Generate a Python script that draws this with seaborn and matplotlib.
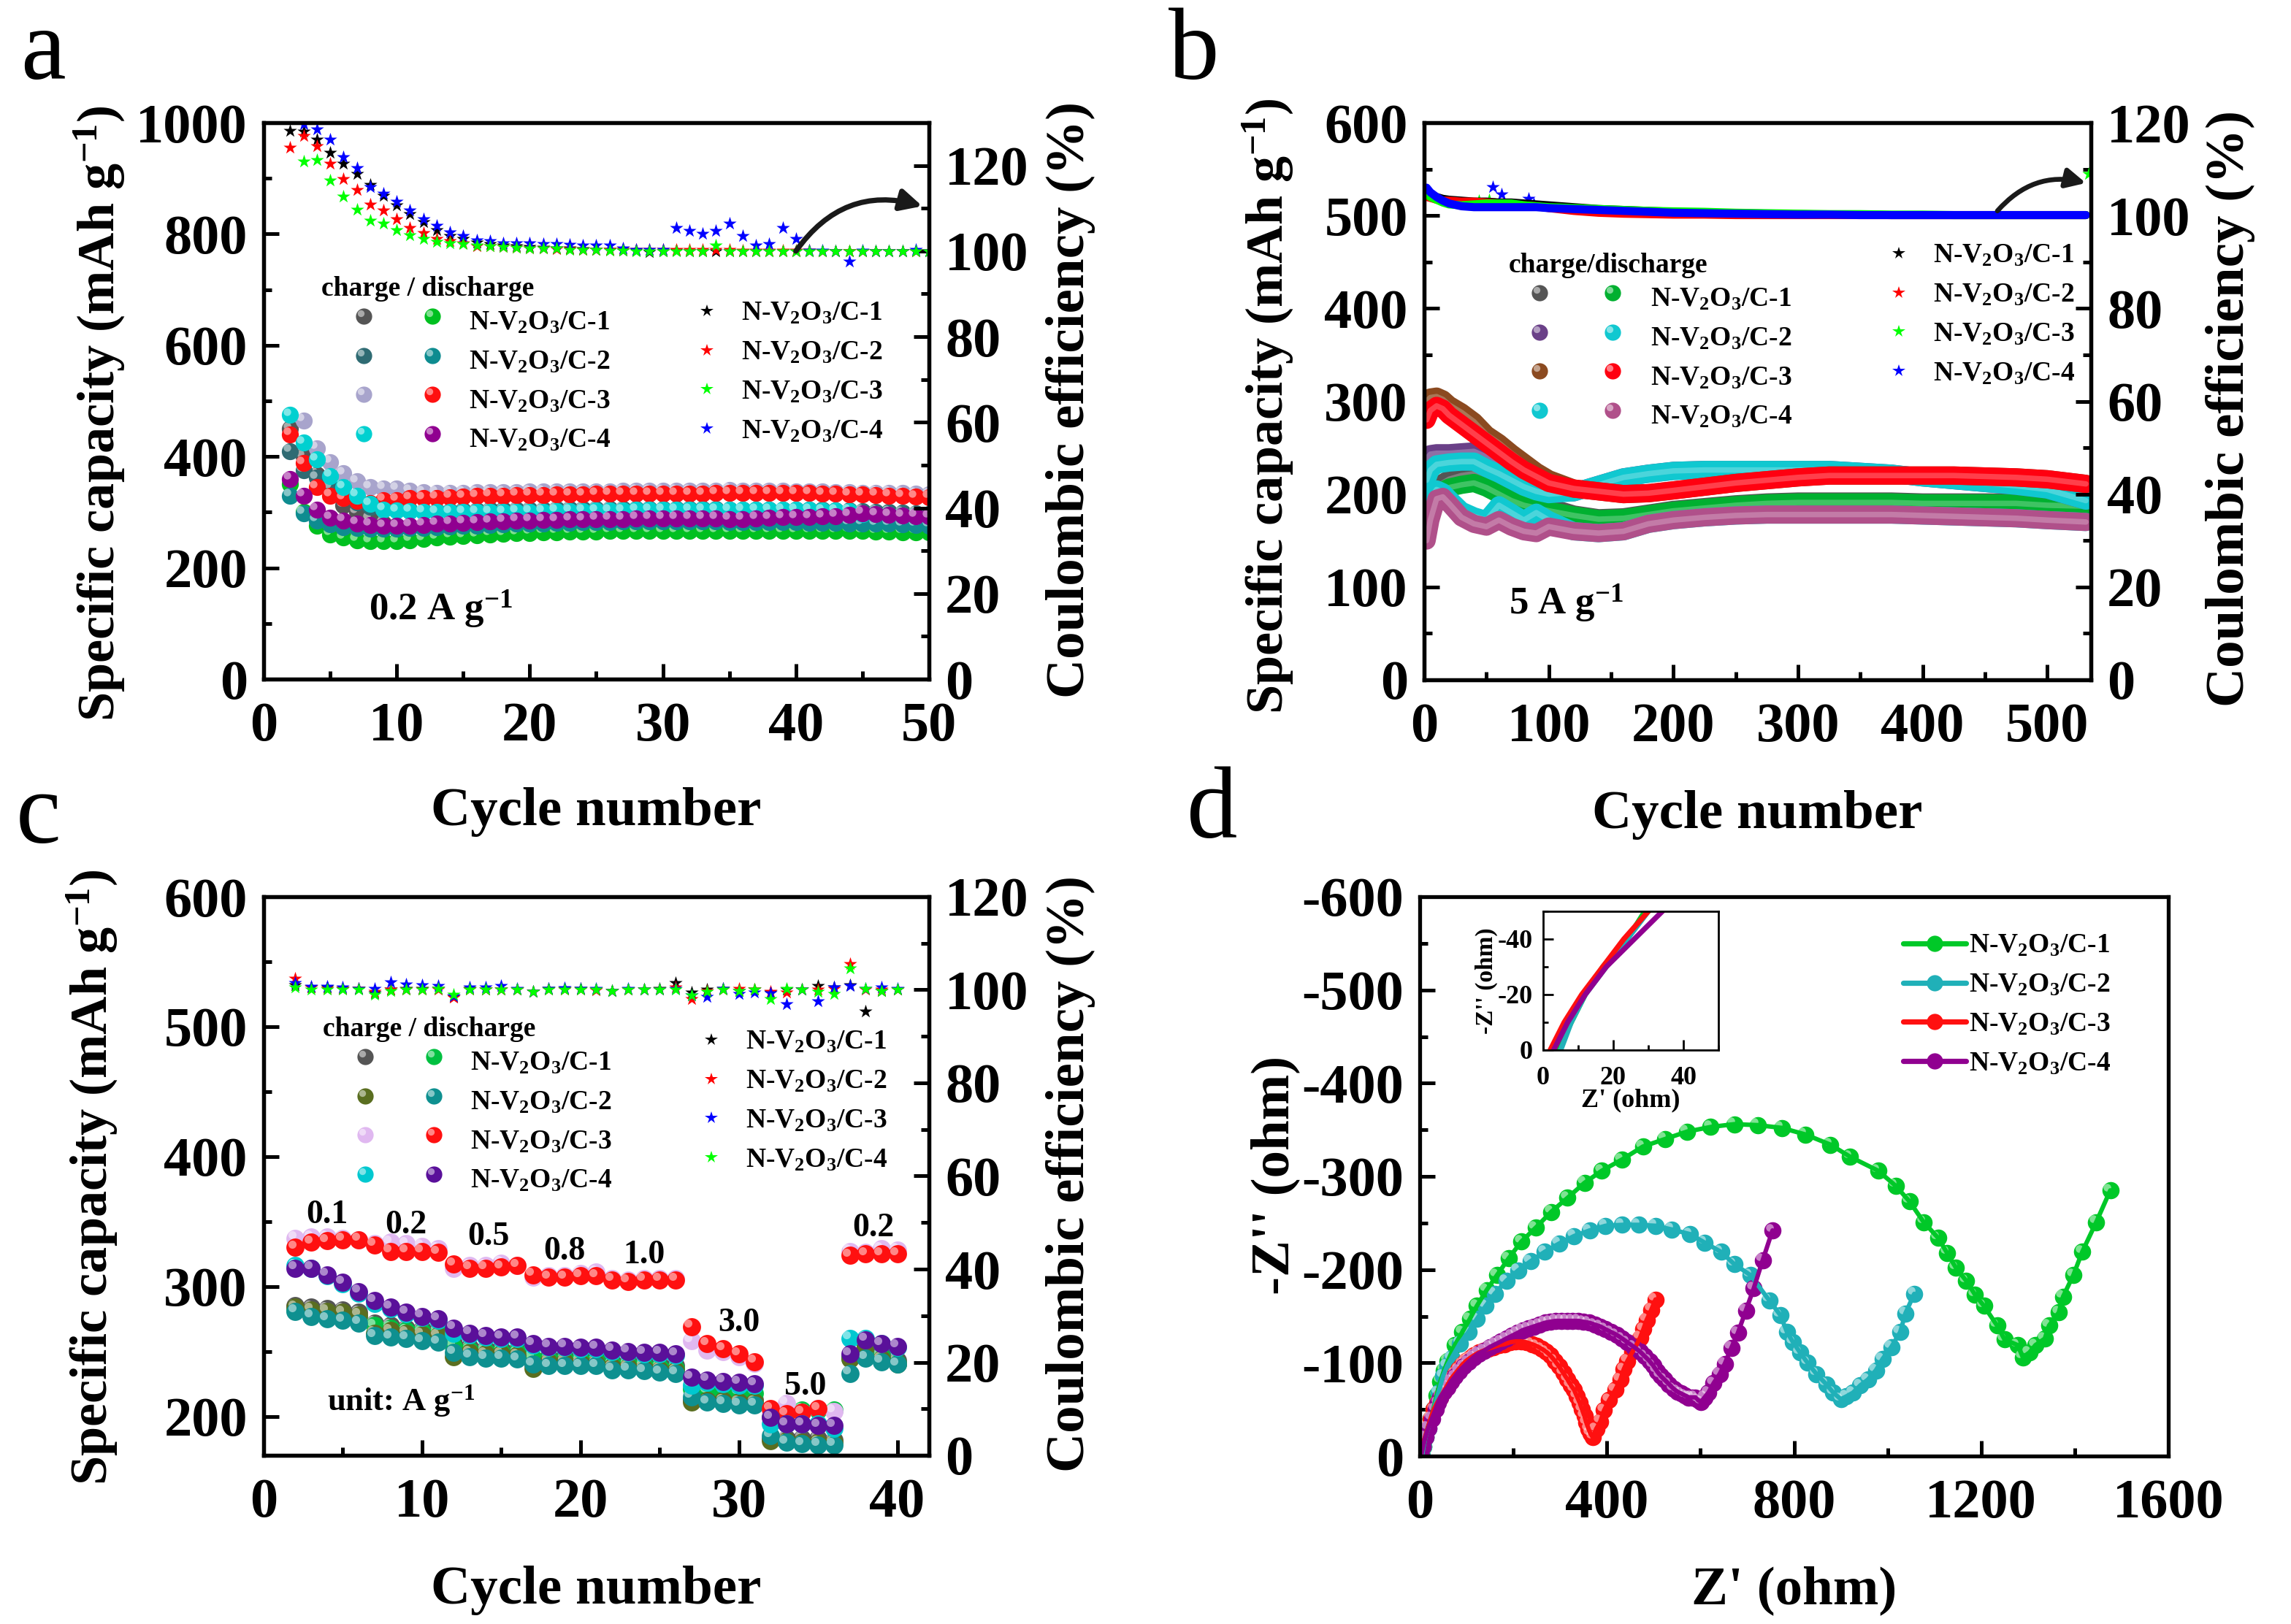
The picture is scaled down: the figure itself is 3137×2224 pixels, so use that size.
import numpy as np, pandas as pd
import matplotlib
matplotlib.use('Agg')
import matplotlib.pyplot as plt
import seaborn as sns
from matplotlib.lines import Line2D
from matplotlib.legend_handler import HandlerBase
from matplotlib.ticker import MultipleLocator
from matplotlib.transforms import offset_copy

W, H, DPI = 3137, 2224, 200
sns.set_theme(style='ticks')
plt.rcParams.update({
    'font.family': ['Liberation Serif', 'DejaVu Serif'], 'font.weight': 'bold',
    'axes.labelweight': 'bold', 'mathtext.default': 'regular',
    'axes.unicode_minus': False, 'axes.linewidth': 1.9, 'text.color': 'black',
    'xtick.color': 'black', 'ytick.color': 'black', 'axes.edgecolor': 'black',
    'axes.labelcolor': 'black'})

NAMES = ['N-V$_2$O$_3$/C-1', 'N-V$_2$O$_3$/C-2', 'N-V$_2$O$_3$/C-3', 'N-V$_2$O$_3$/C-4']
STAR_A = ['#000000', '#FF0000', '#00FF00', '#0000FF']
STAR_C = ['#000000', '#FF0000', '#0000FF', '#00FF00']

# ---------- panel a (cycle 2 onward) ----------
A_C1 = [450,400,368,340,312,300,288,280,276,273,272,272,272,272,272,272,273,273,273,273,273,273,273,273,273,273,273,273,273,273,273,273,273,273,273,273,273,273,273,273,273,273,273,272,272,272,272,271,271]
A_D1 = [350,300,275,260,254,250,248,248,248,250,252,254,256,257,258,260,261,262,263,264,264,265,265,265,266,266,266,266,266,266,266,266,266,266,266,266,266,266,266,266,266,266,267,266,265,265,264,264,264]
A_C2 = [410,375,362,345,330,318,310,306,304,303,302,302,302,303,303,304,304,305,305,305,306,306,306,306,306,306,306,306,306,306,306,306,306,305,305,305,305,305,304,304,304,303,303,302,301,300,299,298,297]
A_D2 = [330,298,285,278,273,271,270,270,270,271,272,273,274,275,276,277,278,279,280,280,281,281,282,282,282,283,283,283,283,283,283,283,283,282,282,282,282,282,282,281,281,281,280,280,279,279,278,277,276]
A_C3 = [np.nan,465,415,390,370,355,345,343,342,338,336,335,335,335,336,336,336,336,337,337,337,337,337,337,337,338,338,338,338,338,338,338,338,340,338,338,338,338,337,337,337,336,336,335,335,335,334,333,332]
A_D3 = [440,388,345,330,325,320,316,322,322,325,325,326,327,328,329,330,330,331,331,331,332,332,332,333,333,333,333,333,333,333,333,333,334,334,334,334,334,334,334,334,333,333,332,332,331,330,329,328,327]
A_C4 = [475,425,395,365,345,330,315,305,303,302,301,300,300,300,300,300,300,301,301,301,302,302,302,303,303,303,304,304,304,304,304,304,304,304,304,304,304,304,304,304,303,303,302,296,296,295,294,293,292]
A_D4 = [360,330,305,290,285,280,277,275,275,276,277,279,280,281,282,283,284,285,285,286,286,287,287,288,288,288,289,289,289,289,289,289,289,288,288,289,290,291,291,291,292,293,295,298,296,295,294,293,292]
A_CE1 = [128.1,128.0,126.0,123.0,120.5,118.0,115.5,113.0,110.8,108.6,106.8,105.0,103.5,102.9,102.0,101.6,101.3,101.1,101.0,100.8,100.7,100.7,100.5,100.4,100.3,100.2,100.1,99.8,100.0,100.1,100.0,99.9,99.9,100.0,100.0,100.0,100.0,100.0,100.0,100.0,100.0,99.9,99.9,99.9,100.0,100.0,100.0,100.0,100.0]
A_CE2 = [124.2,127.0,124.6,120.4,116.9,114.3,110.9,109.5,107.5,105.5,104.2,102.9,102.3,101.8,101.2,101.1,101.0,100.9,100.7,100.6,100.5,100.5,100.4,100.4,100.3,100.5,100.3,100.3,100.4,100.4,100.3,100.3,100.3,100.3,100.2,100.2,100.2,100.1,100.1,100.1,100.0,100.0,100.0,100.0,100.0,100.0,100.0,100.0,100.0]
A_CE3 = [np.nan,121.0,121.3,116.6,112.8,109.7,107.2,106.5,105.0,103.7,102.9,102.2,101.8,101.6,101.4,101.2,101.0,100.8,100.7,100.6,100.6,100.4,100.3,100.3,100.2,100.1,100.0,100.0,100.0,100.0,100.0,100.0,101.4,100.0,100.0,100.0,100.0,100.0,100.0,99.9,99.9,99.9,99.9,99.9,99.9,99.9,99.9,99.9,99.9]
A_CE4 = [np.nan,129.6,128.4,126.0,122.0,119.4,115.0,113.4,111.6,109.5,107.4,105.9,104.4,103.5,102.6,102.4,101.8,101.8,101.8,101.7,101.6,101.5,101.4,101.4,101.4,100.6,100.4,100.3,100.3,105.5,104.8,104.0,104.8,106.5,103.6,101.4,101.6,105.5,102.9,100.2,100.1,100.0,97.6,100.2,100.0,100.0,100.0,100.3,100.0]
A_COL = ['#555555','#00C020','#2F6B73','#0E8C90','#A8A4CC','#FF1010','#00D0D0','#900090']

# ---------- panel b ----------
B_X = [2,5,10,15,20,30,40,50,60,70,80,90,100,120,140,160,180,200,225,250,275,300,325,350,375,400,425,450,475,500,531]
B_C1 = [195,200,205,212,216,220,222,212,204,197,192,188,186,178,174,175,179,183,186,189,191,192,192,192,192,191,191,191,191,189,188]
B_D1 = [190,195,200,204,207,210,212,207,200,193,188,185,182,177,173,174,178,182,185,188,190,191,191,191,191,190,190,190,190,188,187]
B_C2 = [238,243,244,244,244,245,246,240,230,220,212,205,202,202,210,218,222,225,226,226,226,226,226,224,222,218,215,212,209,205,193]
B_D2 = [215,226,232,233,234,235,235,228,222,215,208,203,200,202,210,218,222,225,226,226,226,226,226,224,222,218,215,212,209,205,193]
B_C3 = [300,304,305,302,296,288,278,264,255,244,234,224,216,206,203,200,201,204,208,212,215,218,220,220,220,220,220,219,218,216,211]
B_D3 = [280,290,295,292,285,275,265,255,245,235,226,219,212,206,203,200,201,204,208,212,215,218,220,220,220,220,220,219,218,216,211]
B_C4 = [185,195,205,202,195,182,176,172,188,180,172,180,172,160,158,160,168,172,175,177,178,178,178,178,178,177,176,175,174,172,170]
B_D4 = [150,172,195,197,190,175,168,165,172,165,160,158,165,160,158,160,168,172,175,177,178,178,178,178,178,177,176,175,174,172,170]
B_CE1 = [105.0,104.5,104.0,103.6,103.4,103.2,103.0,103.0,102.8,102.8,102.6,102.4,102.2,101.8,101.4,101.2,101.0,100.8,100.6,100.5,100.4,100.3,100.2,100.2,100.1,100.1,100.1,100.1,100.1,100.1,100.1]
B_CE2 = [104.0,103.8,103.4,103.2,103.2,103.0,103.0,102.8,102.6,102.4,102.2,102.0,101.6,101.0,100.6,100.4,100.3,100.2,100.2,100.1,100.1,100.1,100.1,100.1,100.1,100.1,100.1,100.1,100.1,100.1,100.1]
B_CE3 = [104.6,104.0,103.4,102.8,102.4,102.2,102.4,102.6,102.6,102.6,102.2,102.0,101.8,101.6,101.4,101.2,101.0,100.9,100.8,100.6,100.5,100.4,100.3,100.3,100.2,100.2,100.1,100.1,100.1,100.1,100.1]
B_CE4 = [106.0,105.0,104.0,103.2,102.6,102.0,101.8,101.8,101.8,101.8,101.8,101.8,101.6,101.4,101.2,101.0,100.8,100.6,100.5,100.4,100.3,100.2,100.2,100.1,100.1,100.1,100.1,100.1,100.1,100.1,100.1]
B_CE3_OUT_X = [44, 52, 533]
B_CE3_OUT_Y = [103.2, 103.4, 109.0]
B_CE4_OUT_X = [55, 62, 84, 88]
B_CE4_OUT_Y = [106.2, 104.6, 103.6, 102.6]
B_COL = ['#555555','#00B030','#6A4088','#10C8D0','#8B4A20','#FF0010','#10C8D0','#B0508A']

# ---------- panel c (cycle 2 onward) ----------
C_C1 = [285,284,283,282,280,272,270,268,267,266,256,253,252,252,251,240,246,246,245,245,242,242,241,240,239,213,213,213,213,213,183,183,183,183,182,246,255,248,243]
C_D1 = [282,280,279,279,277,270,268,266,265,264,254,251,250,250,249,245,244,244,243,243,240,240,239,238,237,221,219,219,218,218,200,203,205,205,205,245,253,246,241]
C_C2 = [284,282,281,280,278,264,266,264,263,262,246,249,248,248,247,237,242,242,241,241,238,238,237,236,235,211,212,212,211,211,181,181,180,180,180,244,254,244,240]
C_D2 = [281,277,275,274,272,262,261,260,258,257,249,246,245,245,244,240,239,239,239,239,236,236,235,234,233,215,211,210,209,209,185,180,179,178,178,233,245,242,240]
C_C3 = [337,338,338,337,336,333,334,333,331,329,314,316,316,318,316,307,308,308,310,311,306,305,306,306,306,258,251,250,246,241,203,210,203,206,204,327,326,329,328]
C_D3 = [330,334,335,336,336,332,327,327,327,326,317,314,314,315,316,309,307,307,308,308,305,304,305,305,305,269,256,252,248,242,206,202,203,206,np.nan,324,325,325,325]
C_C4 = [316,314,308,302,295,287,283,279,276,274,264,263,261,260,260,255,253,253,252,252,250,249,248,248,247,224,226,225,224,224,194,194,194,194,191,260,260,256,253]
C_D4 = [314,314,309,303,296,289,284,280,277,275,268,264,262,261,261,256,254,254,253,253,251,250,249,249,248,230,228,227,226,225,199,194,194,193,193,248,259,256,254]
C_CE1 = [101.0,100.5,100.5,100.3,100.2,99.3,100.0,100.2,100.2,100.3,98.5,100.2,100.0,100.0,100.0,99.6,100.2,100.2,100.2,100.0,99.8,100.0,100.0,100.2,101.5,99.5,100.0,100.2,99.8,100.0,99.4,100.0,100.0,100.8,100.5,101.0,95.4,99.7,100.0]
C_CE2 = [102.5,100.5,100.3,100.2,100.2,99.6,100.0,100.0,100.0,100.0,98.3,100.0,100.0,100.0,100.0,99.6,100.0,100.0,100.0,99.9,99.7,100.0,100.0,100.0,100.5,98.0,99.8,100.0,100.3,100.0,99.6,99.4,100.0,100.0,100.3,105.5,100.0,100.0,100.0]
C_CE3 = [101.5,100.7,100.7,100.5,100.2,100.3,101.7,101.2,101.0,100.9,98.6,100.6,100.6,100.8,100.3,99.6,100.2,100.4,100.3,100.2,99.8,100.2,100.0,100.0,100.3,98.9,98.5,100.3,99.2,99.4,99.3,97.0,100.0,97.5,100.6,100.8,100.3,100.5,100.3]
C_CE4 = [100.5,100.0,100.0,100.0,100.1,99.0,99.8,100.0,100.0,100.2,99.0,100.0,100.0,100.0,100.0,99.6,100.0,100.0,100.0,100.0,99.8,100.0,100.0,100.0,100.0,98.9,99.6,100.0,99.8,100.0,98.0,100.3,100.0,99.6,99.2,104.6,100.2,99.8,100.0]
C_COL = ['#555555','#00C040','#5A6E20','#0E9090','#E0B8F0','#FF1010','#00C8D0','#5A109A']
C_RATE_TXT = ['0.1','0.2','0.5','0.8','1.0','3.0','5.0','0.2']
C_RATE_X = [4, 9, 14.2, 19, 24, 30, 34.2, 38.5]
C_RATE_Y = [355, 347, 338, 327, 324, 272, 223, 345]

# ---------- panel d ----------
D1_RE = [1476,1446,1416,1397,1375,1366,1345,1336,1316,1303,1289,1278,1250,1234,1206,1187,1168,1146,1127,1108,1077,1047,1017,980,920,878,824,774,722,672,622,571,524,477,432,389,352,316,281,248,217,190,165,143,122,107,91,75,60,52,44,36,29,24,17,12,8,4]
D1_IM = [285,251,219,194,171,154,140,126,119,111,106,119,125,140,161,173,188,202,218,234,251,273,290,306,321,334,345,352,355,356,353,348,340,332,318,306,293,277,262,245,230,212,194,178,161,147,133,119,102,92,80,65,50,40,30,20,10,0]
D2_RE = [1057,1038,1027,1008,989,975,958,942,926,912,900,884,869,848,829,813,798,785,771,747,707,672,644,609,578,539,504,468,433,397,363,330,298,267,237,210,185,160,141,122,104,86,68,59,50,40,30,24,18,12,8,5]
D2_IM = [174,153,133,117,104,92,82,76,68,64,61,68,77,88,100,111,122,133,151,167,194,206,219,229,238,243,247,248,248,247,242,236,228,219,209,199,188,174,161,147,133,121,105,97,86,68,50,40,30,20,10,0]
D3_RE = [504,495,485,478,471,463,455,444,436,429,418,405,394,386,377,370,365,361,356,352,347,342,336,330,323,316,307,298,289,279,270,261,250,240,228,217,205,193,181,170,158,146,136,126,116,107,99,91,83,75,67,60,52,44,37,30,23,17,11,6,2]
D3_IM = [168,157,146,136,127,119,112,102,93,82,71,60,49,37,29,20,24,29,36,43,50,57,64,71,76,82,89,96,102,108,112,115,118,120,122,123,123,122,120,119,117,115,113,111,108,105,102,98,93,88,83,77,70,63,57,50,40,30,20,10,0]
D4_RE = [754,733,714,697,680,666,652,641,628,617,609,601,595,589,582,575,567,559,551,543,533,523,515,507,499,491,481,471,458,444,433,421,409,397,386,374,362,350,339,327,315,303,291,279,268,256,244,232,220,209,197,185,174,162,150,138,126,115,104,94,84,75,67,60,52,44,39,34,26,18,12,7,3]
D4_IM = [242,210,180,156,132,116,99,88,78,68,63,58,60,63,63,63,65,67,69,72,77,82,86,91,97,102,107,112,117,122,126,130,133,136,139,141,143,144,145,145,145,145,145,144,143,141,139,137,135,132,129,126,123,120,117,113,110,106,101,96,91,85,80,74,69,63,57,50,40,30,20,10,0]
D_COL = ['#00C828','#20B0B8','#FF1010','#900090']

fig = plt.figure(figsize=(W/DPI, H/DPI), dpi=DPI, facecolor='white')

def add_ax(l, r, t, b):
    return fig.add_axes([l/W, 1-b/H, (r-l)/W, (b-t)/H])

def balls(ax, x, y, color, size=70):
    df = pd.DataFrame({'x': x, 'y': y}).dropna()
    sns.scatterplot(data=df, x='x', y='y', ax=ax, color=color, s=size, linewidth=0, legend=False)
    off = offset_copy(ax.transData, fig=fig, x=-1.6, y=1.6, units='points')
    sns.scatterplot(data=df, x='x', y='y', ax=ax, color='white', alpha=.5, s=size*.2,
                    linewidth=0, legend=False, transform=off)

def stars(ax, x, y, color, size=48):
    df = pd.DataFrame({'x': x, 'y': y}).dropna()
    sns.scatterplot(data=df, x='x', y='y', ax=ax, color=color, s=size, marker='*',
                    linewidth=0, legend=False)

def band(ax, x, y, color, lw=9, shine=.25):
    df = pd.DataFrame({'x': x, 'y': y})
    sns.lineplot(data=df, x='x', y='y', ax=ax, color=color, lw=lw, estimator=None, sort=False,
                 legend=False, solid_capstyle='round')
    if shine:
        sns.lineplot(data=df, x='x', y='y', ax=ax, color='white', alpha=shine, lw=lw*.3,
                     estimator=None, sort=False, legend=False)

class PairHandler(HandlerBase):
    def __init__(self, c1, c2, fr, ms=8):
        super().__init__(); self.c1, self.c2, self.fr, self.ms = c1, c2, fr, ms
    def create_artists(self, legend, orig, xd, yd, w, h, fs, trans):
        out = []
        y = (h - 2*yd)/2 + 2
        for frac, c in zip(self.fr, (self.c1, self.c2)):
            x = w*frac
            a = Line2D([x], [y], marker='o', ls='none', color=c, ms=self.ms, mew=0, transform=trans)
            b = Line2D([x-1.5], [y+1.5], marker='o', ls='none', color='white', alpha=.5, ms=self.ms*.42, mew=0, transform=trans)
            out += [a, b]
        return out

def pair_legend(ax, colors, px, py, title, fs=13.5, hl=5.33, fr=(.29, .76)):
    hs = [Line2D([], [], color=colors[i*2]) for i in range(4)]
    hm = {h: PairHandler(colors[2*i], colors[2*i+1], fr) for i, h in enumerate(hs)}
    leg = ax.legend(hs, NAMES, handler_map=hm, loc='upper left', bbox_to_anchor=(px/W, 1-py/H),
                    bbox_transform=fig.transFigure, frameon=False, fontsize=fs, title=title,
                    title_fontsize=fs, handlelength=hl, handletextpad=.05, labelspacing=.5,
                    borderpad=0, borderaxespad=0)
    leg._legend_box.align = 'left'
    leg._legend_box.sep = 4.2
    leg.set_zorder(5)
    return leg

def star_legend(ax, colors, px, py, fs=13.5):
    hs = [Line2D([], [], marker='*', ls='none', color=c, ms=6.5, mew=0) for c in colors]
    return ax.legend(hs, NAMES, loc='upper left', bbox_to_anchor=(px/W, 1-py/H),
                     bbox_transform=fig.transFigure, frameon=False, fontsize=fs,
                     handlelength=1, handletextpad=.75, labelspacing=.5, borderpad=0, borderaxespad=0)

def setup(ax, l, r, t, b, xlim, xmaj, xmin, ylim, ymaj, ymin, lab_x, lab_y, xlab, xlab_y, ylab, xfs=27, yfs=26):
    ax.set_xlim(*xlim); ax.set_ylim(*ylim)
    ax.xaxis.set_major_locator(MultipleLocator(xmaj)); ax.xaxis.set_minor_locator(MultipleLocator(xmin))
    ax.yaxis.set_major_locator(MultipleLocator(ymaj)); ax.yaxis.set_minor_locator(MultipleLocator(ymin))
    ax.tick_params(which='major', direction='in', length=7.5, width=1.8, labelsize=27.5, top=False, right=False, pad=8)
    ax.tick_params(which='minor', direction='in', length=3.8, width=1.8, top=False, right=False)
    ax.tick_params(axis='x', which='major', pad=11)
    ax.set_xlabel(xlab, fontsize=xfs)
    ax.xaxis.set_label_coords(.5, (b-xlab_y)/(b-t), transform=ax.transAxes)
    ax.xaxis.label.set_va('center')
    ax.set_ylabel(ylab, fontsize=yfs)
    ax.yaxis.set_label_coords((lab_x-l)/(r-l), (b-lab_y)/(b-t))
    ax.yaxis.label.set_va('center')

def setup_right(ax2, l, r, t, b, ylim, ymaj, ymin, lab_x, lab_y):
    ax2.set_ylim(*ylim)
    ax2.yaxis.set_major_locator(MultipleLocator(ymaj)); ax2.yaxis.set_minor_locator(MultipleLocator(ymin))
    ax2.tick_params(which='major', direction='in', length=7.5, width=1.8, labelsize=27.5, pad=8)
    ax2.tick_params(which='minor', direction='in', length=3.8, width=1.8)
    ax2.set_ylabel('Coulombic efficiency (%)', fontsize=27)
    ax2.yaxis.set_label_coords((lab_x-l)/(r-l), (b-lab_y)/(b-t))
    ax2.yaxis.label.set_va('center')

CAP = 'Specific capacity (mAh g$^{-1}$)'

# panel a
la, ra, ta, ba = 361, 1272, 168, 930
a = add_ax(la, ra, ta, ba)
xa = np.arange(2, 51)
for s, c in zip([A_C1,A_D1,A_C2,A_D2,A_C3,A_D3,A_C4,A_D4], A_COL):
    balls(a, xa, s, c)
a.text(7.9, 125, '0.2 A g$^{-1}$', fontsize=19, va='center')
a2 = a.twinx()
for s, c in zip([A_CE1,A_CE2,A_CE4,A_CE3], [STAR_A[0],STAR_A[1],STAR_A[3],STAR_A[2]]):
    stars(a2, xa, s, c)
setup(a, la, ra, ta, ba, (0,50), 10, 5, (0,1000), 200, 100, 136, 566, 'Cycle number', 1112, CAP)
setup_right(a2, la, ra, ta, ba, (0,130), 20, 10, 1466, 548)
a2.annotate('', xy=(49.5,110.5), xytext=(40,100),
            arrowprops=dict(arrowstyle='-|>', connectionstyle='arc3,rad=-0.35', color='k', lw=2.6, mutation_scale=22, shrinkA=0, shrinkB=0))
pair_legend(a, A_COL, 440, 378, 'charge / discharge')
star_legend(a2, STAR_A, 949, 412)

# panel b
lb, rb, tb, bb = 1950, 2863, 168, 931
b = add_ax(lb, rb, tb, bb)
for s, c in zip([B_C1,B_D1,B_C2,B_D2,B_C3,B_D3,B_C4,B_D4], B_COL):
    band(b, B_X, s, c)
b.text(68, 82, '5 A g$^{-1}$', fontsize=19, va='center')
b2 = b.twinx()
for s, c in zip([B_CE1,B_CE2,B_CE3,B_CE4], STAR_A):
    band(b2, B_X, s, c, lw=4, shine=0)
stars(b2, B_CE3_OUT_X, B_CE3_OUT_Y, STAR_A[2])
stars(b2, B_CE4_OUT_X, B_CE4_OUT_Y, STAR_A[3])
setup(b, lb, rb, tb, bb, (0,535), 100, 50, (0,600), 100, 50, 1736, 556, 'Cycle number', 1116, CAP)
setup_right(b2, lb, rb, tb, bb, (0,120), 20, 10, 3054, 560)
b2.annotate('', xy=(531,107), xytext=(460,101),
            arrowprops=dict(arrowstyle='-|>', connectionstyle='arc3,rad=-0.3', color='k', lw=2.4, mutation_scale=20, shrinkA=0, shrinkB=0))
pair_legend(b, B_COL, 2066, 346, 'charge/discharge', hl=5.12, fr=(.22, .74))
star_legend(b2, STAR_A, 2581, 333)

# panel c
lc, rc, tc, bc = 361, 1272, 1228, 1993
c = add_ax(lc, rc, tc, bc)
xc = np.arange(2, 41)
for s, col in zip([C_C1,C_D1,C_C2,C_D2,C_C3,C_D3,C_C4,C_D4], C_COL):
    balls(c, xc, s, col, size=80)
for t, x, y in zip(C_RATE_TXT, C_RATE_X, C_RATE_Y):
    c.text(x, y, t, fontsize=16.5, ha='center', va='center')
c.text(4, 212, 'unit: A g$^{-1}$', fontsize=16, va='center')
c2 = c.twinx()
for s, col in zip([C_CE1,C_CE2,C_CE3,C_CE4], STAR_C):
    stars(c2, xc, s, col)
setup(c, lc, rc, tc, bc, (0,42), 10, 5, (170,600), 100, 50, 126, 1612, 'Cycle number', 2178, CAP)
setup_right(c2, lc, rc, tc, bc, (0,120), 20, 10, 1466, 1608)
pair_legend(c, C_COL, 442, 1392, 'charge / discharge')
star_legend(c2, STAR_C, 955, 1410)

# panel d
ld, rd, td, bd = 1944, 2969, 1228, 1994
d = add_ax(ld, rd, td, bd)
series_d = [(D1_RE,D1_IM),(D2_RE,D2_IM),(D3_RE,D3_IM),(D4_RE,D4_IM)]
for (x, y), col in zip(series_d, D_COL):
    df = pd.DataFrame({'x': x, 'y': -np.array(y)})
    sns.lineplot(data=df, x='x', y='y', ax=d, color=col, lw=2.2, estimator=None, sort=False, legend=False)
    balls(d, df.x, df.y, col, size=72)
setup(d, ld, rd, td, bd, (0,1600), 400, 200, (0,-600), 100, 50, 1746, 1609, "Z' (ohm)", 2178, "-Z'' (ohm)", yfs=27)
hd = [Line2D([], [], color=col, lw=2.6, marker='o', ms=8, mew=0) for col in D_COL]
d.legend(hd, NAMES, loc='upper left', bbox_to_anchor=(2606/W, 1-1278/H), bbox_transform=fig.transFigure,
         frameon=False, fontsize=13.5, handlelength=2.3, handletextpad=.1, labelspacing=.5, borderpad=0, borderaxespad=0)
ins = fig.add_axes([2113/W, 1-1438/H, 240/W, 190/H])
for (x, y), col in zip(series_d, D_COL):
    df = pd.DataFrame({'x': x, 'y': -np.array(y)})
    sns.lineplot(data=df, x='x', y='y', ax=ins, color=col, lw=2.6, estimator=None, sort=False, legend=False)
ins.set_xlim(0, 50); ins.set_ylim(0, -50)
ins.xaxis.set_major_locator(MultipleLocator(20)); ins.xaxis.set_minor_locator(MultipleLocator(10))
ins.yaxis.set_major_locator(MultipleLocator(20)); ins.yaxis.set_minor_locator(MultipleLocator(10))
ins.tick_params(which='major', direction='in', length=5, width=1, labelsize=13, top=False, right=False)
ins.tick_params(axis='x', which='major', pad=8)
ins.tick_params(axis='y', which='major', pad=5)
ins.tick_params(which='minor', direction='in', length=2.5, width=1, top=False, right=False)
for sp in ins.spines.values():
    sp.set_linewidth(1)
ins.set_xlabel("Z' (ohm)", fontsize=13, labelpad=-1)
ins.set_ylabel("-Z'' (ohm)", fontsize=12, labelpad=0)

for t, x, y in [('a', 28, 108), ('b', 1600, 108), ('c', 22, 1154), ('d', 1625, 1147)]:
    fig.text(x/W, 1-y/H, t, fontsize=50, fontweight='normal', va='baseline', ha='left')

fig.savefig('out.png', dpi=DPI)
